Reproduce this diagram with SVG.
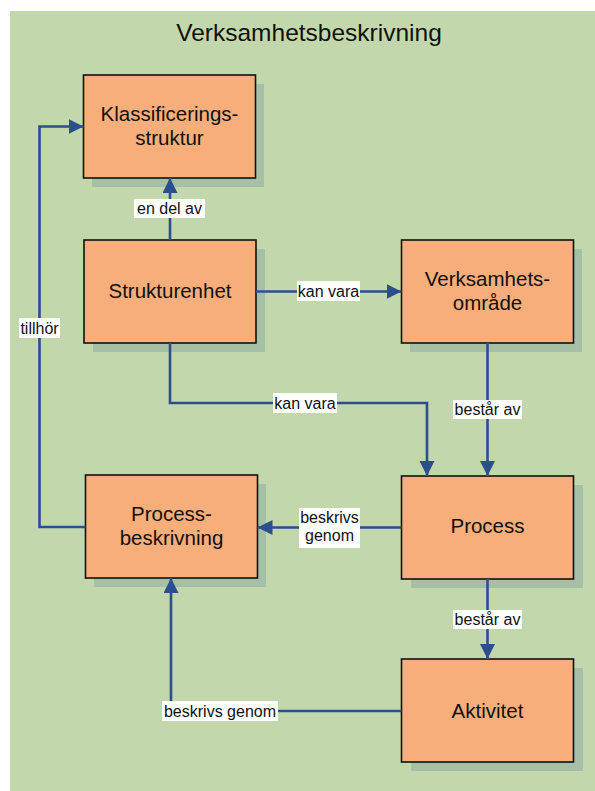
<svg xmlns="http://www.w3.org/2000/svg" width="595" height="791" viewBox="0 0 595 791">
<style>
.node rect.box{fill:#f7ae7b;stroke:#111;stroke-width:1.6}
.node rect.shadow{fill:#a6bfa7}
.node text{font-family:"Liberation Sans",Arial,sans-serif;font-size:20.5px;fill:#111;text-anchor:middle}
.conn path{fill:none;stroke:#2b4f8d;stroke-width:2.6}
.lbl rect{fill:#fff}
.lbl text{font-family:"Liberation Sans",Arial,sans-serif;font-size:16px;fill:#111;text-anchor:middle}
.title{font-family:"Liberation Sans",Arial,sans-serif;font-size:24.5px;fill:#111;text-anchor:middle}
</style>
<defs>
<marker id="arr" markerUnits="userSpaceOnUse" markerWidth="16" markerHeight="16" refX="15" refY="7.5" orient="auto" viewBox="0 0 16 16">
<path d="M0,0 L15,7.5 L0,15 z" fill="#2b4f8d"/>
</marker>
</defs>
<rect x="10" y="11" width="585" height="780" fill="#c2d8ac"/>
<text class="title" x="309" y="41">Verksamhetsbeskrivning</text>

<g id="klassificeringsstruktur" class="node">
<rect class="shadow" x="92" y="84" width="172" height="103"/>
<rect class="box" x="83.5" y="75" width="172" height="103"/>
<text x="169.5" y="121">Klassificerings-</text>
<text x="169.5" y="145">struktur</text>
</g>
<g id="strukturenhet" class="node">
<rect class="shadow" x="93" y="249" width="172" height="103"/>
<rect class="box" x="84" y="240" width="172" height="103"/>
<text x="170" y="298">Strukturenhet</text>
</g>
<g id="verksamhetsomrade" class="node">
<rect class="shadow" x="410" y="249" width="172" height="103"/>
<rect class="box" x="401.5" y="240" width="172" height="103"/>
<text x="487.5" y="286">Verksamhets-</text>
<text x="487.5" y="310">område</text>
</g>
<g id="process" class="node">
<rect class="shadow" x="411" y="485" width="172" height="103"/>
<rect class="box" x="401.5" y="476" width="172" height="103"/>
<text x="487.5" y="533">Process</text>
</g>
<g id="processbeskrivning" class="node">
<rect class="shadow" x="94" y="484" width="172" height="103"/>
<rect class="box" x="85.5" y="475" width="172" height="103"/>
<text x="171.5" y="521">Process-</text>
<text x="171.5" y="545">beskrivning</text>
</g>
<g id="aktivitet" class="node">
<rect class="shadow" x="411" y="668" width="172" height="103"/>
<rect class="box" x="401.5" y="659" width="172" height="103"/>
<text x="487.5" y="718">Aktivitet</text>
</g>

<g id="connectors" class="conn">
<path d="M170,240 V178" marker-end="url(#arr)"/>
<path d="M256,291.5 H401.5" marker-end="url(#arr)"/>
<path d="M170,343 V403 H427 V476" marker-end="url(#arr)"/>
<path d="M487.5,343 V476" marker-end="url(#arr)"/>
<path d="M401.5,527.5 H257.5" marker-end="url(#arr)"/>
<path d="M487.5,579 V659" marker-end="url(#arr)"/>
<path d="M401.5,711 H171 V578" marker-end="url(#arr)"/>
<path d="M85.5,527 H39.5 V126.5 H83.5" marker-end="url(#arr)"/>
</g>

<g id="labels">
<g class="lbl"><rect x="134" y="199" width="71" height="19"/><text x="169.5" y="214">en del av</text></g>
<g class="lbl"><rect x="297" y="281" width="63" height="20"/><text x="328.5" y="297">kan vara</text></g>
<g class="lbl"><rect x="273" y="393" width="64" height="20"/><text x="305" y="409">kan vara</text></g>
<g class="lbl"><rect x="453" y="400" width="69" height="19"/><text x="487.5" y="415">består av</text></g>
<g class="lbl"><rect x="453" y="610" width="69" height="19"/><text x="487.5" y="625">består av</text></g>
<g class="lbl"><rect x="299" y="508" width="61" height="40"/><text x="329.5" y="523">beskrivs</text><text x="329.5" y="541">genom</text></g>
<g class="lbl"><rect x="19" y="318" width="41" height="20"/><text x="39.5" y="334">tillhör</text></g>
<g class="lbl"><rect x="162" y="701" width="116" height="20"/><text x="220" y="717">beskrivs genom</text></g>
</g>
</svg>
